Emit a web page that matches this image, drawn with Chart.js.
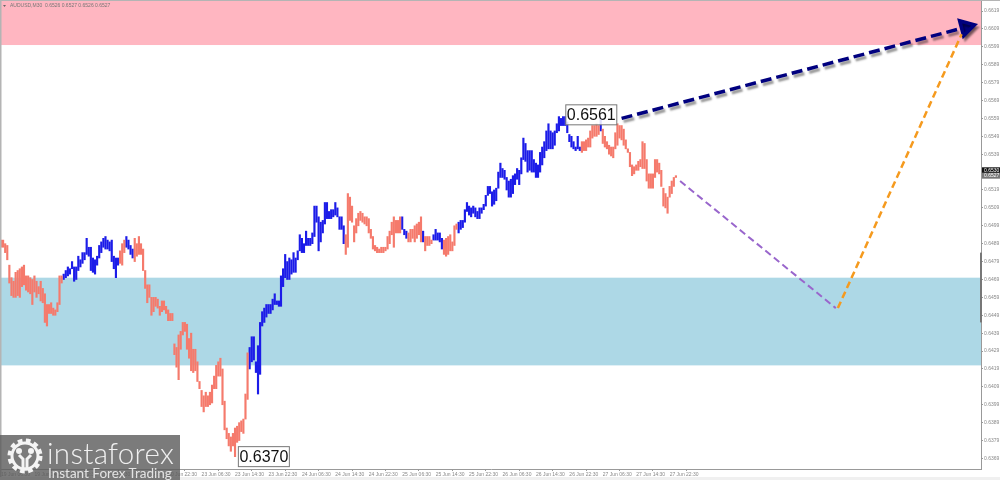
<!DOCTYPE html>
<html>
<head>
<meta charset="utf-8">
<title>AUDUSD,M30</title>
<script src="https://cdn.jsdelivr.net/npm/chart.js@4"></script>
<style>
    html, body { margin: 0; padding: 0; background: #fff; }
    #wrap { position: relative; width: 1000px; height: 480px; overflow: hidden; }
    #chart { display: block; }
    #logo {
        position: absolute; left: 0; top: 435px; width: 180px; height: 45px;
        background: rgba(90, 90, 90, 0.8); color: #f0f0f0; font-family: "Lato", sans-serif;
    }
    #logo svg { position: absolute; left: 6px; top: 2px; }
    #logoName { position: absolute; left: 47px; top: 3px; font-size: 29.5px; line-height: 30px; font-weight: 300; letter-spacing: 0.3px; white-space: nowrap; }
    #logoSub { position: absolute; left: 48px; top: 31px; font-size: 13.5px; line-height: 14px; font-weight: 400; color: #e4e4e4; white-space: nowrap; }
</style>
</head>
<body>
<div id="wrap">
    <canvas id="chart" width="1000" height="480"></canvas>
    <div id="logo">
        <svg width="38" height="38" viewBox="0 0 38 38">
            <circle cx="19" cy="19" r="15" fill="none" stroke="#f4f4f4" stroke-width="5" stroke-dasharray="4.5 3.4"></circle>
            <circle cx="19" cy="19" r="13" fill="none" stroke="#f4f4f4" stroke-width="3"></circle>
            <circle cx="13" cy="14" r="3" fill="#f4f4f4"></circle>
            <circle cx="25" cy="14" r="3" fill="#f4f4f4"></circle>
            <path d="M13 18 L17 22 V32 H21 V22 L25 18" fill="none" stroke="#f4f4f4" stroke-width="3"></path>
        </svg>
        <div id="logoName">instaforex</div>
        <div id="logoSub">Instant Forex Trading</div>
    </div>
</div>
<script>
// prices are in 1/10000, one low and one high for every M30 bar
const barLows = [
    6487,6487,6484,6480,6467,6460,6459,6459,6460,6459,
    6465,6466,6463,6462,6461,6455,6462,6459,6461,6457,
    6456,6445,6443,6450,6450,6449,6449,6451,6455,6467,
    6469,6470,6471,6472,6475,6468,6469,6474,6476,6478,
    6480,6483,6482,6474,6473,6472,6477,6481,6484,6487,
    6486,6486,6485,6479,6475,6470,6477,6478,6477,6484,
    6487,6486,6483,6481,6479,6482,6483,6483,6474,6464,
    6456,6459,6449,6451,6454,6453,6449,6451,6452,6450,
    6446,6446,6446,6427,6420,6413,6430,6438,6440,6430,
    6425,6418,6417,6418,6412,6408,6398,6395,6398,6398,
    6399,6400,6408,6408,6415,6415,6399,6385,6380,6376,
    6373,6376,6370,6378,6379,6384,6383,6391,6402,6419,
    6423,6424,6417,6405,6416,6443,6445,6448,6450,6450,
    6452,6455,6455,6454,6454,6465,6470,6469,6469,6472,
    6473,6473,6480,6485,6484,6484,6488,6488,6488,6489,
    6493,6501,6485,6490,6495,6500,6503,6503,6503,6504,
    6505,6504,6497,6497,6489,6483,6487,6502,6501,6490,
    6495,6499,6502,6501,6500,6499,6495,6492,6486,6485,
    6484,6484,6484,6484,6485,6486,6489,6494,6487,6495,
    6495,6495,6497,6494,6492,6490,6490,6492,6490,6492,
    6494,6490,6490,6485,6488,6488,6489,6491,6491,6491,
    6490,6486,6483,6482,6483,6485,6485,6488,6497,6495,
    6497,6498,6501,6507,6505,6504,6506,6504,6503,6503,
    6506,6508,6510,6516,6517,6510,6511,6513,6520,6526,
    6526,6525,6519,6515,6515,6517,6522,6525,6522,6528,
    6536,6535,6529,6530,6529,6529,6526,6526,6529,6533,
    6537,6541,6542,6542,6542,6544,6551,6552,6555,6555,
    6555,6551,6546,6543,6542,6541,6542,6541,6540,6541,
    6541,6543,6543,6548,6549,6549,6550,6552,6545,6543,
    6542,6539,6538,6537,6542,6544,6548,6547,6544,6542,
    6540,6532,6527,6528,6530,6530,6532,6531,6531,6524,
    6520,6520,6520,6526,6529,6528,6521,6510,6509,6506,
    6515,6517,6521,6526
];
const barHighs = [
    6491,6491,6489,6488,6477,6470,6468,6473,6474,6475,
    6476,6477,6471,6471,6470,6469,6471,6468,6465,6468,
    6464,6461,6455,6455,6456,6453,6452,6456,6471,6471,
    6472,6474,6476,6475,6479,6476,6476,6482,6480,6484,
    6484,6492,6487,6487,6481,6480,6482,6488,6490,6492,
    6493,6491,6490,6491,6482,6481,6481,6485,6489,6491,
    6493,6491,6488,6486,6492,6489,6493,6489,6486,6474,
    6466,6466,6459,6459,6459,6458,6454,6457,6457,6454,
    6452,6450,6450,6433,6431,6438,6440,6445,6445,6444,
    6436,6439,6430,6430,6423,6412,6407,6404,6406,6404,
    6406,6410,6415,6421,6423,6425,6419,6401,6386,6383,
    6381,6383,6386,6387,6389,6390,6391,6405,6428,6431,
    6437,6437,6423,6432,6445,6451,6453,6455,6455,6455,
    6458,6461,6457,6457,6471,6475,6483,6479,6481,6480,
    6484,6481,6485,6494,6492,6489,6496,6492,6492,6495,
    6510,6510,6504,6501,6502,6512,6512,6507,6508,6508,
    6512,6509,6504,6504,6499,6494,6517,6515,6510,6499,
    6503,6506,6507,6506,6504,6504,6503,6497,6493,6488,
    6487,6486,6487,6487,6487,6493,6496,6501,6504,6502,
    6502,6504,6504,6497,6496,6495,6497,6497,6499,6500,
    6501,6504,6496,6493,6493,6493,6491,6494,6497,6495,
    6495,6492,6491,6492,6493,6494,6490,6499,6500,6501,
    6502,6502,6508,6512,6510,6509,6510,6509,6507,6509,
    6509,6511,6516,6521,6521,6518,6519,6520,6529,6534,
    6531,6530,6526,6524,6525,6527,6528,6531,6530,6537,
    6548,6545,6541,6541,6541,6536,6534,6533,6540,6543,
    6546,6552,6556,6552,6551,6552,6556,6560,6559,6560,
    6560,6557,6550,6549,6546,6543,6549,6543,6546,6546,
    6547,6548,6552,6555,6555,6556,6555,6559,6553,6549,
    6546,6544,6543,6543,6551,6556,6555,6555,6553,6547,
    6542,6540,6533,6532,6533,6535,6536,6546,6545,6536,
    6528,6528,6528,6536,6536,6534,6530,6520,6517,6515,
    6521,6524,6526,6527
];
// how many bars in a row are falling or rising, starting with falling
const waveRuns = [30, 27, 3, 4, 55, 46, 27, 3, 7, 1, 4, 5, 7, 59, 9, 1, 36];

const priceTicks = [
    6619,6609,6599,6589,6579,6569,6559,6549,6539,6529,6519,6509,6499,
    6489,6479,6469,6459,6449,6439,6429,6419,6409,6399,6389,6379,6369
];
const timeLabels = [
    `19 Jun 06:30`, `19 Jun 14:30`, `19 Jun 22:30`, `20 Jun 06:30`, `20 Jun 14:30`, `20 Jun 22:30`,
    `23 Jun 06:30`, `23 Jun 14:30`, `23 Jun 22:30`, `24 Jun 06:30`, `24 Jun 14:30`, `24 Jun 22:30`,
    `25 Jun 06:30`, `25 Jun 14:30`, `25 Jun 22:30`, `26 Jun 06:30`, `26 Jun 14:30`, `26 Jun 22:30`,
    `27 Jun 06:30`, `27 Jun 14:30`, `27 Jun 22:30`
];
const barsPerLabel = 16;

const resistanceZone = [6600, 6625];
const supportZone = [6421, 6470];

const downPathBars = [325, 399.5];
const downPathPrices = [6524, 6453];
const upPathBars = [400.5, 459.7];
const upPathPrices = [6453, 6606];
const arrowBars = [297, 461.8];
const arrowPrices = [6559, 6610];

const pivotBars = [282.5, 125.8];
const pivotPrices = [6561, 6370];
const quotePrices = [6530, 6527];
const shiftMarker = [6445, 6484];
const headerText = `AUDUSD,M30  0.6526 0.6527 0.6526 0.6527`;

const toPrice = pips => pips / 10000;
const pathPoints = (bars, prices) => bars.map((bar, i) => ({ x: bar, y: toPrice(prices[i]) }));

function barsForWave(isRising) {
    const points = [];
    let index = 0;
    waveRuns.forEach((length, run) => {
        for (let i = 0; i < length; i++, index++) {
            if ((run % 2 === 1) === isRising) {
                points.push({ x: index, y: [toPrice(barLows[index]), toPrice(barHighs[index])] });
            }
        }
    });
    return points;
}

// tick labels must not push the plot away from the window edge
function dropScalePadding(scale) {
    scale.paddingLeft = 0;
    scale.paddingRight = 0;
    scale.paddingTop = 0;
    scale.paddingBottom = 0;
}

const chartDecor = {
    id: `chartDecor`,
    beforeDatasetsDraw(chart) {
        const { ctx, chartArea, scales } = chart;
        const zone = (range, color) => {
            const top = scales.y.getPixelForValue(toPrice(range[1]));
            const bottom = scales.y.getPixelForValue(toPrice(range[0]));
            ctx.fillStyle = color;
            ctx.fillRect(chartArea.left, top, chartArea.width, bottom - top);
        };
        zone(resistanceZone, `#ffb6c1`);
        zone(supportZone, `#add8e6`);
    },
    beforeDatasetDraw(chart, args) {
        if (args.meta.label !== `arrow`) return;
        const { ctx } = chart;
        ctx.save();
        ctx.shadowColor = `rgba(0, 0, 0, 0.4)`;
        ctx.shadowOffsetX = 2;
        ctx.shadowOffsetY = 3;
        ctx.shadowBlur = 2;
    },
    afterDatasetDraw(chart, args) {
        if (args.meta.label === `arrow`) chart.ctx.restore();
    },
    afterDraw(chart) {
        const { ctx, chartArea, scales } = chart;

        // window frame
        ctx.fillStyle = `#b4b4b4`;
        ctx.fillRect(0, 0, 1000, 1);
        ctx.fillRect(0, 0, 1.5, 480);
        ctx.fillStyle = `#f0f0f0`;
        ctx.fillRect(0, 477, 1000, 3);

        // scale shift marker on the price axis
        const markerTop = scales.y.getPixelForValue(toPrice(shiftMarker[1]));
        const markerBottom = scales.y.getPixelForValue(toPrice(shiftMarker[0]));
        ctx.fillStyle = `#777`;
        ctx.fillRect(chartArea.right - 1, markerTop, 2, markerBottom - markerTop);

        ctx.textBaseline = `middle`;

        // symbol line
        ctx.fillStyle = `#666`;
        ctx.beginPath();
        ctx.moveTo(3, 5);
        ctx.lineTo(6, 5);
        ctx.lineTo(4.5, 7);
        ctx.fill();
        ctx.fillStyle = `#777`;
        ctx.font = `5px "Liberation Sans"`;
        ctx.textAlign = `left`;
        ctx.fillText(headerText, 10, 6);

        // bid and ask boxes
        quotePrices.forEach((pips, i) => {
            const y = scales.y.getPixelForValue(toPrice(pips));
            ctx.fillStyle = i === 0 ? `#111` : `#777`;
            ctx.fillRect(chartArea.right + 1, y - 3, 18, 6);
            ctx.fillStyle = `#fff`;
            ctx.fillText(toPrice(pips).toFixed(4), chartArea.right + 3, y);
        });

        // wave pivot labels
        ctx.font = `16px "Liberation Sans"`;
        ctx.textAlign = `center`;
        pivotBars.forEach((bar, i) => {
            const x = scales.x.getPixelForValue(bar);
            const y = scales.y.getPixelForValue(toPrice(pivotPrices[i]));
            ctx.fillStyle = `rgba(255, 255, 255, 0.85)`;
            ctx.fillRect(x - 25.5, y - 10, 51, 20);
            ctx.strokeStyle = `#777`;
            ctx.lineWidth = 1;
            ctx.strokeRect(x - 25.5, y - 10, 51, 20);
            ctx.fillStyle = `#111`;
            ctx.fillText(toPrice(pivotPrices[i]).toFixed(4), x, y + 1);
        });
    }
};

const barDataset = (isRising, color) => ({
    type: `bar`,
    label: isRising ? `rising` : `falling`,
    data: barsForWave(isRising),
    backgroundColor: color,
    barThickness: 1.5,
    grouped: false,
    order: 2
});

const pathDataset = (label, points, color, width, dash) => ({
    type: `line`,
    label: label,
    data: points,
    borderColor: color,
    backgroundColor: color,
    borderWidth: width,
    borderDash: dash,
    pointRadius: 0,
    order: 1
});

const arrow = pathDataset(`arrow`, pathPoints(arrowBars, arrowPrices), `#00007f`, 3.5, [11, 5]);
arrow.pointRadius = context => context.dataIndex === 1 ? 9 : 0;
arrow.pointStyle = `triangle`;
arrow.pointRotation = 75;

const chart = new Chart(document.getElementById(`chart`).getContext(`2d`), {
    data: {
        datasets: [
            barDataset(false, `#f57a6c`),
            barDataset(true, `#1c1ce8`),
            pathDataset(`down path`, pathPoints(downPathBars, downPathPrices), `#9966cc`, 2, [7, 4]),
            pathDataset(`up path`, pathPoints(upPathBars, upPathPrices), `#f59a1e`, 2.5, [7, 4]),
            arrow
        ]
    },
    plugins: [chartDecor],
    options: {
        responsive: false,
        animation: false,
        layout: { autoPadding: false, padding: { left: 1, top: 1, right: 0, bottom: 0 } },
        plugins: { legend: { display: false }, tooltip: { enabled: false }, title: { display: false } },
        scales: {
            x: {
                type: `linear`,
                offset: false,
                min: 0,
                max: 469,
                border: { color: `#999` },
                grid: { drawOnChartArea: false, tickLength: 2, color: `#999` },
                afterBuildTicks: scale => {
                    scale.ticks = timeLabels.map((label, i) => ({ value: i * barsPerLabel }));
                },
                afterFit: scale => {
                    scale.height = 11;
                    dropScalePadding(scale);
                },
                ticks: {
                    autoSkip: false,
                    maxRotation: 0,
                    align: `start`,
                    padding: 1,
                    color: `#888`,
                    font: { family: `"Liberation Sans"`, size: 5 },
                    callback: value => timeLabels[value / barsPerLabel]
                }
            },
            y: {
                type: `linear`,
                position: `right`,
                min: 0.63631,
                max: 0.66246,
                border: { color: `#999` },
                grid: { drawOnChartArea: false, tickLength: 2, color: `#999` },
                afterBuildTicks: scale => {
                    scale.ticks = priceTicks.map(pips => ({ value: toPrice(pips) }));
                },
                afterFit: scale => {
                    scale.width = 19;
                    dropScalePadding(scale);
                },
                ticks: {
                    autoSkip: false,
                    padding: 1,
                    color: `#888`,
                    font: { family: `"Liberation Sans"`, size: 5 },
                    callback: value => value.toFixed(4)
                }
            }
        }
    }
});
</script>
</body>
</html>
